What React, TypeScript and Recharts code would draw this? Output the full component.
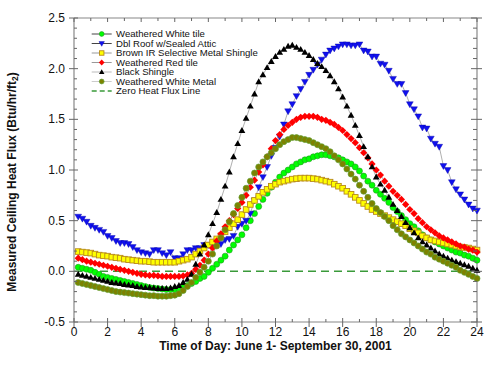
import React from 'react';
import { LineChart, Line, XAxis, YAxis, ReferenceLine, Legend } from 'recharts';

// 15-minute averages, first sample at 00:15, last at 24:00
const WHITE_TILE = [
  0.04, 0.03, 0.02,
  0.01, -0.01, -0.03, -0.05, -0.06, -0.07, -0.08, -0.09,
  -0.10, -0.11, -0.12, -0.13, -0.14, -0.15, -0.16, -0.165,
  -0.17, -0.175, -0.18, -0.18, -0.18, -0.175, -0.16, -0.14,
  -0.12, -0.10, -0.07, -0.05, -0.01, 0.03, 0.07, 0.11,
  0.15, 0.21, 0.26, 0.31, 0.36, 0.43, 0.50, 0.57,
  0.64, 0.71, 0.77, 0.83, 0.88, 0.93, 0.97, 1.00,
  1.03, 1.06, 1.08, 1.10, 1.11, 1.13, 1.14, 1.15,
  1.15, 1.14, 1.13, 1.12, 1.10, 1.08, 1.06, 1.03,
  0.99, 0.94, 0.89, 0.85, 0.80, 0.76, 0.72, 0.68,
  0.63, 0.59, 0.55, 0.51, 0.47, 0.44, 0.40, 0.36,
  0.33, 0.31, 0.29, 0.27, 0.25, 0.23, 0.21, 0.19,
  0.18, 0.16, 0.15, 0.13, 0.11,
];

const DBL_ROOF = [
  0.54, 0.52, 0.49,
  0.45, 0.43, 0.41, 0.39, 0.35, 0.33, 0.30, 0.28,
  0.28, 0.27, 0.24, 0.21, 0.19, 0.18, 0.17, 0.21,
  0.21, 0.18, 0.16, 0.19, 0.13, 0.13, 0.17, 0.21,
  0.21, 0.23, 0.23, 0.26, 0.26, 0.26, 0.27, 0.27,
  0.31, 0.32, 0.35, 0.44, 0.47, 0.50, 0.57, 0.70,
  0.83, 0.93, 1.03, 1.14, 1.22, 1.33, 1.45, 1.58,
  1.65, 1.73, 1.80, 1.87, 1.94, 1.99, 2.04, 2.09,
  2.14, 2.18, 2.20, 2.22, 2.24, 2.24, 2.23, 2.23,
  2.24, 2.18, 2.17, 2.12, 2.12, 2.05, 2.04, 1.98,
  1.90, 1.85, 1.85, 1.76, 1.65, 1.60, 1.53, 1.42,
  1.41, 1.31, 1.26, 1.23, 1.04, 1.00, 0.88, 0.81,
  0.76, 0.71, 0.66, 0.62, 0.60,
];

const BROWN_IR = [
  0.195, 0.19, 0.185,
  0.18, 0.17, 0.16, 0.155, 0.15, 0.14, 0.135, 0.13,
  0.12, 0.115, 0.11, 0.105, 0.10, 0.10, 0.095, 0.09,
  0.09, 0.09, 0.09, 0.09, 0.09, 0.10, 0.11, 0.12,
  0.14, 0.17, 0.20, 0.23, 0.26, 0.29, 0.32, 0.35,
  0.39, 0.43, 0.47, 0.51, 0.56, 0.61, 0.66, 0.70,
  0.74, 0.78, 0.81, 0.84, 0.86, 0.88, 0.89, 0.90,
  0.91, 0.915, 0.92, 0.92, 0.92, 0.915, 0.91, 0.90,
  0.89, 0.88, 0.86, 0.84, 0.82, 0.79, 0.76, 0.73,
  0.70, 0.67, 0.64, 0.61, 0.59, 0.57, 0.55, 0.53,
  0.51, 0.49, 0.47, 0.45, 0.42, 0.40, 0.38, 0.35,
  0.33, 0.31, 0.30, 0.29, 0.28, 0.27, 0.26, 0.25,
  0.24, 0.235, 0.23, 0.22, 0.21,
];

const RED_TILE = [
  0.13, 0.115, 0.10,
  0.09, 0.08, 0.07, 0.06, 0.05, 0.04, 0.03, 0.02,
  0.01, 0.0, -0.01, -0.02, -0.03, -0.035, -0.04, -0.04,
  -0.045, -0.05, -0.05, -0.05, -0.05, -0.05, -0.045, -0.035,
  -0.02, 0.02, 0.06, 0.11, 0.17, 0.23, 0.30, 0.37,
  0.44, 0.50, 0.56, 0.62, 0.68, 0.75, 0.83, 0.90,
  0.98, 1.05, 1.13, 1.21, 1.29, 1.35, 1.40, 1.44,
  1.47, 1.50, 1.52, 1.53, 1.53, 1.53, 1.52, 1.50,
  1.49, 1.47, 1.45, 1.42, 1.39, 1.35, 1.31, 1.27,
  1.22, 1.17, 1.12, 1.06, 1.00, 0.95, 0.89, 0.84,
  0.79, 0.75, 0.71, 0.66, 0.61, 0.57, 0.52, 0.48,
  0.44, 0.41, 0.38, 0.35, 0.33, 0.31, 0.29, 0.27,
  0.25, 0.24, 0.22, 0.21, 0.19,
];

const BLACK_SHINGLE = [
  -0.03, -0.04, -0.05,
  -0.06, -0.07, -0.08, -0.09, -0.10, -0.11, -0.115, -0.12,
  -0.13, -0.135, -0.14, -0.15, -0.155, -0.16, -0.16, -0.165,
  -0.17, -0.17, -0.17, -0.165, -0.15, -0.14, -0.11, -0.08,
  -0.03, 0.07, 0.17, 0.26, 0.36, 0.47, 0.58, 0.71,
  0.84, 0.98, 1.13, 1.26, 1.39, 1.51, 1.63, 1.75,
  1.87, 1.94, 2.01, 2.07, 2.12, 2.16, 2.19, 2.22,
  2.23, 2.21, 2.19, 2.16, 2.13, 2.09, 2.05, 2.02,
  1.98, 1.93, 1.87, 1.80, 1.72, 1.63, 1.54, 1.44,
  1.34, 1.23, 1.13, 1.03, 0.93, 0.86, 0.80, 0.73,
  0.66, 0.60, 0.54, 0.48, 0.43, 0.38, 0.33, 0.29,
  0.26, 0.23, 0.20, 0.17, 0.15, 0.13, 0.11, 0.095,
  0.08, 0.065, 0.05, 0.03, 0.01,
];

const WHITE_METAL = [
  -0.11, -0.12, -0.13,
  -0.14, -0.15, -0.16, -0.17, -0.18, -0.19, -0.20, -0.205,
  -0.21, -0.215, -0.22, -0.225, -0.23, -0.235, -0.24, -0.24,
  -0.245, -0.245, -0.245, -0.24, -0.235, -0.22, -0.19, -0.15,
  -0.11, -0.06, -0.01, 0.04, 0.10, 0.17, 0.25, 0.33,
  0.41, 0.49, 0.57, 0.65, 0.73, 0.82, 0.89, 0.97,
  1.03, 1.08, 1.13, 1.17, 1.21, 1.25, 1.28, 1.30,
  1.32, 1.32, 1.31, 1.30, 1.29, 1.27, 1.25, 1.23,
  1.21, 1.18, 1.14, 1.10, 1.06, 1.01, 0.96, 0.91,
  0.85, 0.79, 0.73, 0.67, 0.62, 0.58, 0.54, 0.50,
  0.45, 0.41, 0.37, 0.34, 0.31, 0.28, 0.25, 0.22,
  0.19, 0.17, 0.14, 0.12, 0.10, 0.08, 0.06, 0.04,
  0.01, -0.01, -0.03, -0.05, -0.07,
];

const X_TICKS = [0, 1, 2, 3, 4, 5, 6, 7, 8, 9, 10, 11, 12, 13, 14, 15, 16, 17, 18, 19, 20, 21, 22, 23, 24];
const Y_TICKS = [
  -0.5, -0.4, -0.3, -0.2, -0.1, 0, 0.1, 0.2, 0.3, 0.4, 0.5, 0.6, 0.7, 0.8, 0.9, 1.0,
  1.1, 1.2, 1.3, 1.4, 1.5, 1.6, 1.7, 1.8, 1.9, 2.0, 2.1, 2.2, 2.3, 2.4, 2.5,
];

const data = WHITE_TILE.map((v, i) => ({
  hour: (i + 1) / 4,
  whiteTile: v,
  dblRoof: DBL_ROOF[i],
  brownIR: BROWN_IR[i],
  redTile: RED_TILE[i],
  blackShingle: BLACK_SHINGLE[i],
  whiteMetal: WHITE_METAL[i],
}));

const FONT = "Arial, 'Liberation Sans', sans-serif";
const W = 496;
const H = 369;
const LEFT = 74;
const RIGHT = 477;
const TOP = 18;
const BOTTOM = 322;
const AXIS = '#888';
const TICK = '#666';

const drawMarker = (kind: string, cx: number, cy: number, s = 1) => {
  switch (kind) {
    case 'circle':
      return <circle cx={cx} cy={cy} r={3 * s} fill="#00ff00" stroke="#1f9a1f" strokeWidth={0.6} />;
    case 'olive':
      return <circle cx={cx} cy={cy} r={3 * s} fill="#7d8200" stroke="#5f9f2f" strokeWidth={0.7} />;
    case 'down':
      return (
        <polygon
          points={`${cx - 3.4 * s},${cy - 2.4 * s} ${cx + 3.4 * s},${cy - 2.4 * s} ${cx},${cy + 3.5 * s}`}
          fill="#1010ee"
          stroke="#0000aa"
          strokeWidth={0.4}
        />
      );
    case 'up':
      return (
        <polygon
          points={`${cx},${cy - 3.5 * s} ${cx + 3.4 * s},${cy + 2.4 * s} ${cx - 3.4 * s},${cy + 2.4 * s}`}
          fill="#000"
        />
      );
    case 'square':
      return (
        <rect x={cx - 2.8 * s} y={cy - 2.8 * s} width={5.6 * s} height={5.6 * s} fill="#ffff00" stroke="#b88a1a" strokeWidth={0.9} />
      );
    case 'diamond':
      return (
        <polygon
          points={`${cx},${cy - 3.6 * s} ${cx + 3.6 * s},${cy} ${cx},${cy + 3.6 * s} ${cx - 3.6 * s},${cy}`}
          fill="#ff0000"
        />
      );
    default:
      return null;
  }
};

const dotOf = (kind: string) => (p: any) => {
  const { cx, cy, index } = p;
  if (cx == null || cy == null) return <g key={index} />;
  return <g key={index}>{drawMarker(kind, cx, cy)}</g>;
};

const LEGEND = [
  { label: 'Weathered White tile', kind: 'circle', line: '#444' },
  { label: 'Dbl Roof w/Sealed Attic', kind: 'down', line: '#444' },
  { label: 'Brown IR Selective Metal Shingle', kind: 'square', line: '#999' },
  { label: 'Weathered Red tile', kind: 'diamond', line: '#999' },
  { label: 'Black Shingle', kind: 'up', line: '#bbb' },
  { label: 'Weathered White Metal', kind: 'olive', line: '#ccc' },
  { label: 'Zero Heat Flux Line', kind: 'dash', line: '#3a9a3a' },
];

const renderLegend = () => (
  <svg width={185} height={72} style={{ display: 'block' }}>
    {LEGEND.map((it, i) => {
      const y = 5 + i * 9.5;
      return (
        <g key={it.label}>
          {it.kind === 'dash' ? (
            <line x1={3.7} x2={23.7} y1={y} y2={y} stroke={it.line} strokeWidth={1.5} strokeDasharray="5 3" />
          ) : (
            <line x1={3.7} x2={23.7} y1={y} y2={y} stroke={it.line} strokeWidth={1} />
          )}
          {it.kind !== 'dash' && drawMarker(it.kind, 13.7, y, 0.8)}
          <text x={28} y={y + 3.4} fontSize={9.6} fontFamily={FONT} fill="#111">
            {it.label}
          </text>
        </g>
      );
    })}
  </svg>
);

const XTick = (props: any) => {
  const { x, payload } = props;
  const major = payload.value % 2 === 0;
  return (
    <g>
      <line x1={x} x2={x} y1={BOTTOM - (major ? 4 : 3)} y2={BOTTOM + (major ? 5 : 0)} stroke={TICK} />
      <line x1={x} x2={x} y1={TOP} y2={TOP + (major ? 4 : 3)} stroke={TICK} />
      {major && (
        <text x={x} y={336} textAnchor="middle" fontSize={12} fontFamily={FONT} fill="#111">
          {payload.value}
        </text>
      )}
    </g>
  );
};

const YTick = (props: any) => {
  const { y, payload } = props;
  const major = Math.round(payload.value * 10) % 5 === 0;
  return (
    <g>
      <line x1={LEFT - (major ? 5 : 0)} x2={LEFT + (major ? 4 : 3)} y1={y} y2={y} stroke={TICK} />
      <line x1={RIGHT - (major ? 6 : 4)} x2={RIGHT + (major ? 5 : 0)} y1={y} y2={y} stroke={TICK} />
      {major && (
        <text x={65} y={y + 4} textAnchor="end" fontSize={12} fontFamily={FONT} fill="#111">
          {payload.value.toFixed(1)}
        </text>
      )}
    </g>
  );
};

const XTitle = () => (
  <text x={(LEFT + RIGHT) / 2} y={350} textAnchor="middle" fontSize={12} fontWeight="bold" fontFamily={FONT} fill="#111">
    Time of Day: June 1- September 30, 2001
  </text>
);

const YTitle = () => (
  <text
    x={13}
    y={182}
    transform="rotate(-90 13 182)"
    textAnchor="middle"
    fontSize={12}
    fontWeight="bold"
    fontFamily={FONT}
    fill="#111"
    dominantBaseline="middle"
  >
    Measured Ceiling Heat Flux (Btu/hr/ft
    <tspan fontSize={8.5} dy={3}>2</tspan>
    <tspan dy={-3}>)</tspan>
  </text>
);

const SERIES = [
  { key: 'whiteTile', kind: 'circle' },
  { key: 'dblRoof', kind: 'down' },
  { key: 'brownIR', kind: 'square' },
  { key: 'redTile', kind: 'diamond' },
  { key: 'blackShingle', kind: 'up' },
  { key: 'whiteMetal', kind: 'olive' },
];

export default function App() {
  return (
    <div style={{ position: 'absolute', left: 0, top: 0, width: W, height: H, background: '#fff' }}>
      <LineChart width={W} height={H} data={data} margin={{ top: TOP, right: W - RIGHT, bottom: 0, left: 0 }}>
        <XAxis
          dataKey="hour"
          type="number"
          domain={[0, 24]}
          ticks={X_TICKS}
          interval={0}
          height={H - BOTTOM}
          tickLine={false}
          tickSize={0}
          axisLine={{ stroke: AXIS, strokeWidth: 1.2 }}
          tick={<XTick />}
          label={<XTitle />}
        />
        <YAxis
          type="number"
          domain={[-0.5, 2.5]}
          ticks={Y_TICKS}
          interval={0}
          width={LEFT}
          tickLine={false}
          tickSize={0}
          axisLine={{ stroke: AXIS, strokeWidth: 1.2 }}
          tick={<YTick />}
          label={<YTitle />}
        />
        <ReferenceLine y={2.5} stroke={AXIS} strokeWidth={1.2} />
        <ReferenceLine x={24} stroke={AXIS} strokeWidth={1.2} />
        <ReferenceLine y={0} stroke="#3a9a3a" strokeWidth={1.5} strokeDasharray="8 5" />
        <Legend
          layout="vertical"
          align="center"
          verticalAlign="middle"
          content={renderLegend}
          wrapperStyle={{ left: 88, top: 29, width: 185, height: 72 }}
        />
        {SERIES.map((s) => (
          <Line
            key={s.key}
            dataKey={s.key}
            type="linear"
            stroke="#9a9a9a"
            strokeWidth={0.8}
            dot={dotOf(s.kind)}
            activeDot={false}
            isAnimationActive={false}
          />
        ))}
      </LineChart>
    </div>
  );
}
